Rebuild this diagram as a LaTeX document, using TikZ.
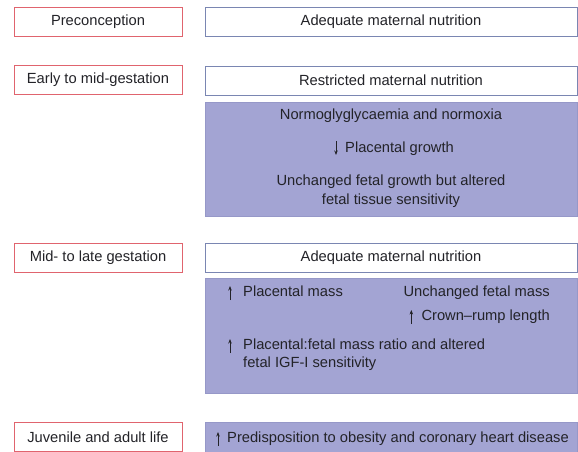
\documentclass[tikz,border=0pt]{standalone}
\usepackage{fontspec}
\setmainfont{Liberation Sans}
\usetikzlibrary{arrows.meta,calc}
\definecolor{fillp}{RGB}{163,164,211}
\definecolor{edgep}{RGB}{150,152,200}
\definecolor{redb}{RGB}{224,100,110}
\definecolor{blueb}{RGB}{122,134,178}
\definecolor{txt}{RGB}{35,35,40}
\begin{document}
\begin{tikzpicture}[x=1pt,y=-1pt,
  font=\fontsize{14.7}{17.5}\selectfont,
  stagebox/.style={draw=redb, line width=1pt, minimum width=168pt, minimum height=29pt, inner sep=0pt, text=txt},
  nutbox/.style={draw=blueb, line width=0.8pt, minimum width=372pt, minimum height=29pt, inner sep=0pt, text=txt},
  effbox/.style={draw=edgep, fill=fillp, line width=0.6pt, minimum width=372pt, inner sep=0pt},
  lbl/.style={inner sep=0pt, text=txt},
  arr/.style={-{Stealth[length=4.5pt,width=3.5pt]}, line width=0.8pt, draw=txt}]
\useasboundingbox (0,0) rectangle (578,451);
\fill[white] (0,0) rectangle (578,451);
% stage boxes
\node[stagebox] (pre) at (98,21.5) {Preconception};
\node[stagebox] (early) at (98,80) {Early to mid-gestation};
\node[stagebox] (mid) at (98,257.5) {Mid- to late gestation};
\node[stagebox] (juv) at (98,437) {Juvenile and adult life};
% nutrition boxes
\node[nutbox] (ade1) at (391,21.5) {Adequate maternal nutrition};
\node[nutbox] (res) at (391,80.5) {Restricted maternal nutrition};
\node[effbox, minimum height=114pt] (p1) at (391,159) {};
\node[nutbox] (ade2) at (391,257.5) {Adequate maternal nutrition};
\node[effbox, minimum height=115pt] (p2) at (391,335.5) {};
\node[effbox, minimum height=30pt] (p3) at (391,437.5) {};
% purple 1
\node[lbl, anchor=base] (n1) at (391,119) {Normoglyglycaemia and normoxia};
\node[lbl, anchor=base west] (n2) at (345,152) {Placental growth};
\draw[arr] ($(n2.base west)+(-9,-11)$) -- ($(n2.base west)+(-9,3)$);
\node[lbl, anchor=base] (n3a) at (391,185) {Unchanged fetal growth but altered};
\node[lbl, anchor=base] (n3b) at (391,204) {fetal tissue sensitivity};
% purple 2
\node[lbl, anchor=base west] (pm) at (243,296) {Placental mass};
\draw[arr] ($(pm.base west)+(-13,4)$) -- ($(pm.base west)+(-13,-10)$);
\node[lbl, anchor=base east] (um) at (550,296) {Unchanged fetal mass};
\node[lbl, anchor=base east] (cr) at (550,320) {Crown--rump length};
\draw[arr] ($(cr.base west)+(-10,4)$) -- ($(cr.base west)+(-10,-10)$);
\node[lbl, anchor=base west] (pr) at (243,349) {Placental:fetal mass ratio and altered};
\draw[arr] ($(pr.base west)+(-13,4)$) -- ($(pr.base west)+(-13,-10)$);
\node[lbl, anchor=base west] (fi) at (243,367) {fetal IGF-I sensitivity};
% purple 3
\node[lbl, anchor=base west] (pd) at (227,442) {Predisposition to obesity and coronary heart disease};
\draw[arr] ($(pd.base west)+(-9,4)$) -- ($(pd.base west)+(-9,-10)$);
\end{tikzpicture}
\end{document}
